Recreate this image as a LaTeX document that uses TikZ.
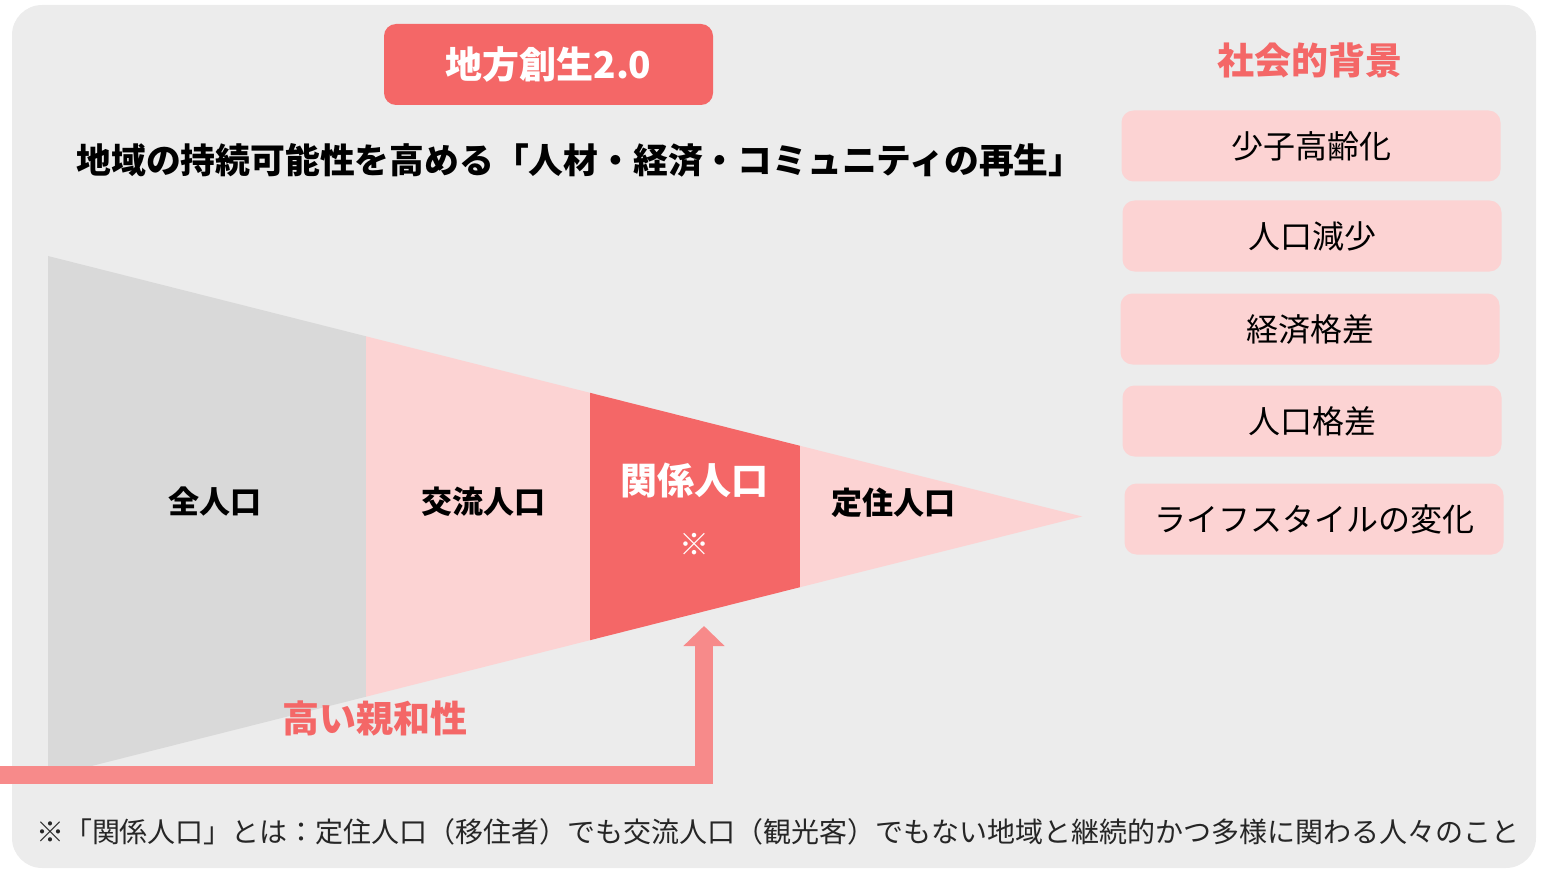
\documentclass[tikz,border=0pt]{standalone}
\usepackage{fontspec}
\setmainfont{Noto Sans CJK JP}
\usepackage{xcolor}
\usetikzlibrary{arrows.meta, positioning}

\definecolor{bgGray}{HTML}{ECECEC}
\definecolor{wedgeGray}{HTML}{D9D9D9}
\definecolor{softPink}{HTML}{FCD3D3}
\definecolor{coral}{HTML}{F46767}
\definecolor{arrowPink}{HTML}{F78A8A}

\begin{document}
\begin{tikzpicture}[x=0.5pt, y=-0.5pt,
    seglabel/.style={font=\fontsize{15.5}{18}\selectfont\bfseries, text=black},
    factorbox/.style={fill=softPink, rounded corners=6pt, minimum width=189.5pt,
        minimum height=35.5pt, font=\fontsize{16}{19}\selectfont, text=black}]
    \useasboundingbox (0,0) rectangle (1544,872);

    % Panel background
    \fill[bgGray, rounded corners=15pt] (12,5) rectangle (1536,868);

    % The funnel (four population layers)
    \fill[wedgeGray] (48,256) -- (366,336.3) -- (366,696.7) -- (48,777) -- cycle;
    \fill[softPink] (366,336.3) -- (590,392.8) -- (590,640.2) -- (366,696.7) -- cycle;
    \fill[coral] (590,392.8) -- (800,445.8) -- (800,587.2) -- (590,640.2) -- cycle;
    \fill[softPink] (800,445.8) -- (1082,516.5) -- (800,587.2) -- cycle;

    % Layer labels
    \node[seglabel] (zenjinko) at (215,502) {全人口};
    \node[seglabel] (koryu) at (483,502) {交流人口};
    \node[font=\fontsize{18.5}{22}\selectfont\bfseries, text=white] (kankei) at (694,480) {関係人口};
    \node[font=\fontsize{15}{18}\selectfont, text=white, below=11pt of kankei] (kome) {※};
    \node[seglabel] (teiju) at (893,503) {定住人口};

    % Affinity arrow
    \coordinate (barStart) at (0,775);
    \coordinate (barCorner) at (704,775);
    \coordinate (arrowTip) at (704,626);
    \draw[arrowPink, line width=9pt, miter limit=10,
        -{Triangle[width=20pt, length=10pt]}] (barStart) -- (barCorner) -- (arrowTip);
    \node[text=coral, font=\fontsize{18.5}{22}\selectfont\bfseries] (affinity) at (375,718) {高い親和性};

    % Title
    \node[fill=coral, rounded corners=6pt, minimum width=164.5pt, minimum height=40.5pt,
        text=white, font=\fontsize{18.5}{22}\selectfont\bfseries] (title) at (548.5,64.5) {地方創生2.0};
    \node[font=\fontsize{17.4}{20}\selectfont\bfseries, text=black] (subtitle) at (580,160)
        {地域の持続可能性を高める「人材・経済・コミュニティの再生」};

    % Social background
    \node[text=coral, font=\fontsize{18.5}{22}\selectfont\bfseries] (haikei) at (1310,60) {社会的背景};
    \foreach \x/\y/\t/\n in {1311/146/少子高齢化/f1, 1312/236/人口減少/f2, 1310/329/経済格差/f3,
        1312/421/人口格差/f4, 1314/519/ライフスタイルの変化/f5} {
        \node[factorbox] (\n) at (\x,\y) {\t};
    }

    % Footnote
    \node[font=\fontsize{14}{17}\selectfont, text=black!85] (note) at (778,832)
        {※「関係人口」とは：定住人口（移住者）でも交流人口（観光客）でもない地域と継続的かつ多様に関わる人々のこと};
\end{tikzpicture}
\end{document}
